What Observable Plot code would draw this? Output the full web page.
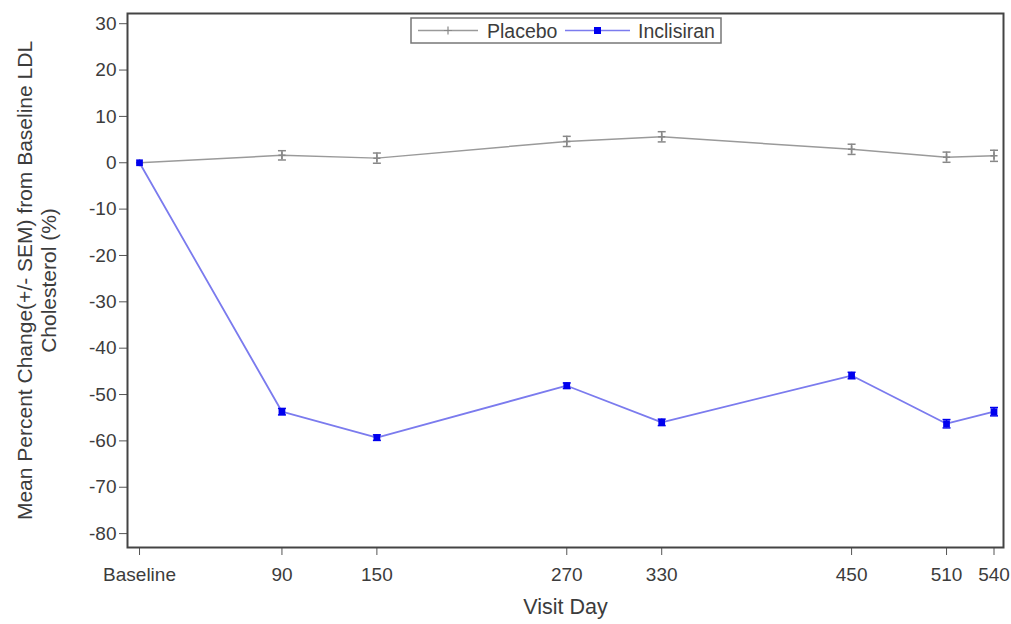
<!DOCTYPE html>
<html><head><meta charset="utf-8">
<script src="https://cdn.jsdelivr.net/npm/d3@7"></script>
<script src="https://cdn.jsdelivr.net/npm/@observablehq/plot@0.6"></script>
<style>
body{margin:0;background:#fff;font-family:"Liberation Sans",Arial,sans-serif;}
</style></head><body><div id="chart"></div>
<script>
const days = [0, 90, 150, 270, 330, 450, 510, 540];
const dayLabels = ["Baseline", "90", "150", "270", "330", "450", "510", "540"];
const placeboMean = [0, 1.6, 1.0, 4.6, 5.6, 2.9, 1.2, 1.5];
const placeboSem = [0, 1.0, 1.1, 1.1, 1.1, 1.1, 1.1, 1.2];
const inclisiranMean = [0, -53.7, -59.3, -48.1, -56.0, -45.9, -56.3, -53.7];
const inclisiranSem = [0, 0.7, 0.6, 0.6, 0.7, 0.7, 0.9, 0.9];
const yTicks = [30, 20, 10, 0, -10, -20, -30, -40, -50, -60, -70, -80];

const placebo = days.map((d, i) => ({day: d, mean: placeboMean[i], sem: placeboSem[i]}));
const inclisiran = days.map((d, i) => ({day: d, mean: inclisiranMean[i], sem: inclisiranSem[i]}));

const capSymbol = {draw(ctx, size) { const w = Math.sqrt(size) / 2; ctx.moveTo(-w, 0); ctx.lineTo(w, 0); }};
const plusSymbol = {draw(ctx, size) { const w = Math.sqrt(size) / 2; ctx.moveTo(-w, 0); ctx.lineTo(w, 0); ctx.moveTo(0, -w); ctx.lineTo(0, w); }};

const gray = "#9a9a9a";
const lineBlue = "#7b7bee";
const markBlue = "#0000ee";
const textColor = "#3c3c3c";

const errs = (data, color) => [
  Plot.ruleX(data.filter(d => d.sem > 0), {x: "day", y1: d => d.mean - d.sem, y2: d => d.mean + d.sem, stroke: color, strokeWidth: 1.5}),
  Plot.dot(data.filter(d => d.sem > 0), {x: "day", y: d => d.mean - d.sem, symbol: capSymbol, r: 4.5, stroke: color, strokeWidth: 1.5, fill: "none"}),
  Plot.dot(data.filter(d => d.sem > 0), {x: "day", y: d => d.mean + d.sem, symbol: capSymbol, r: 4.5, stroke: color, strokeWidth: 1.5, fill: "none"})
];

const chart = Plot.plot({
  width: 1011, height: 624,
  marginLeft: 127, marginRight: 8, marginTop: 13, marginBottom: 77,
  style: {fontFamily: "Liberation Sans, Arial, sans-serif", fontSize: "19px", color: textColor, background: "#fff"},
  x: {domain: [-7.6, 546], label: null},
  y: {domain: [-83, 32.2], label: null},
  marks: [
    Plot.axisX({ticks: days, tickFormat: d => dayLabels[days.indexOf(d)], tickSize: 8, tickPadding: 12, stroke: "#555", fontSize: 19, fill: textColor, label: null}),
    Plot.axisY({ticks: yTicks, tickFormat: d => String(d), tickSize: 8, tickPadding: 3, stroke: "#555", fontSize: 19, fill: textColor, label: null}),
    Plot.frame({stroke: "#444", strokeWidth: 2}),
    Plot.line(placebo, {x: "day", y: "mean", stroke: gray, strokeWidth: 1.5}),
    ...errs(placebo, "#888"),
    Plot.dot(placebo, {x: "day", y: "mean", symbol: plusSymbol, r: 4, stroke: "#888", fill: "none"}),
    Plot.line(inclisiran, {x: "day", y: "mean", stroke: lineBlue, strokeWidth: 1.8}),
    ...errs(inclisiran, markBlue),
    Plot.dot(inclisiran, {x: "day", y: "mean", symbol: "square", r: 3.8, fill: markBlue, stroke: "none"}),
    Plot.text(["Mean Percent Change(+/- SEM) from Baseline LDL\nCholesterol (%)"], {frameAnchor: "left", dx: -91, rotate: -90, fontSize: 21, lineHeight: 1.12, fill: textColor, textAnchor: "middle"}),
    Plot.text(["Visit Day"], {frameAnchor: "bottom", dy: 66, fontSize: 21.5, fill: textColor})
  ]
});

// Legend
const svg = d3.select(chart);
const lg = svg.append("g").attr("font-family", "Liberation Sans, Arial, sans-serif").attr("font-size", 19.5).attr("fill", textColor).attr("text-anchor", "start");
lg.append("rect").attr("x", 411).attr("y", 18).attr("width", 310).attr("height", 25).attr("fill", "#fff").attr("stroke", "#777").attr("stroke-width", 1.5);
const legendItems = [
  {name: "Placebo", color: gray, mark: "#888", type: "plus", x0: 418, x1: 478, tx: 487},
  {name: "Inclisiran", color: lineBlue, mark: markBlue, type: "square", x0: 565, x1: 630, tx: 638}
];
legendItems.forEach(it => {
  lg.append("line").attr("x1", it.x0).attr("x2", it.x1).attr("y1", 30.5).attr("y2", 30.5).attr("stroke", it.color).attr("stroke-width", 1.5);
  const cx = (it.x0 + it.x1) / 2;
  if (it.type === "plus") {
    lg.append("path").attr("d", `M${cx-4},30.5H${cx+4}M${cx},26.5V34.5`).attr("stroke", it.mark).attr("stroke-width", 1.2);
  } else {
    lg.append("rect").attr("x", cx - 3.5).attr("y", 27).attr("width", 7).attr("height", 7).attr("fill", it.mark);
  }
  lg.append("text").attr("x", it.tx).attr("y", 37.5).text(it.name);
});

document.getElementById("chart").appendChild(chart);
</script></body></html>
